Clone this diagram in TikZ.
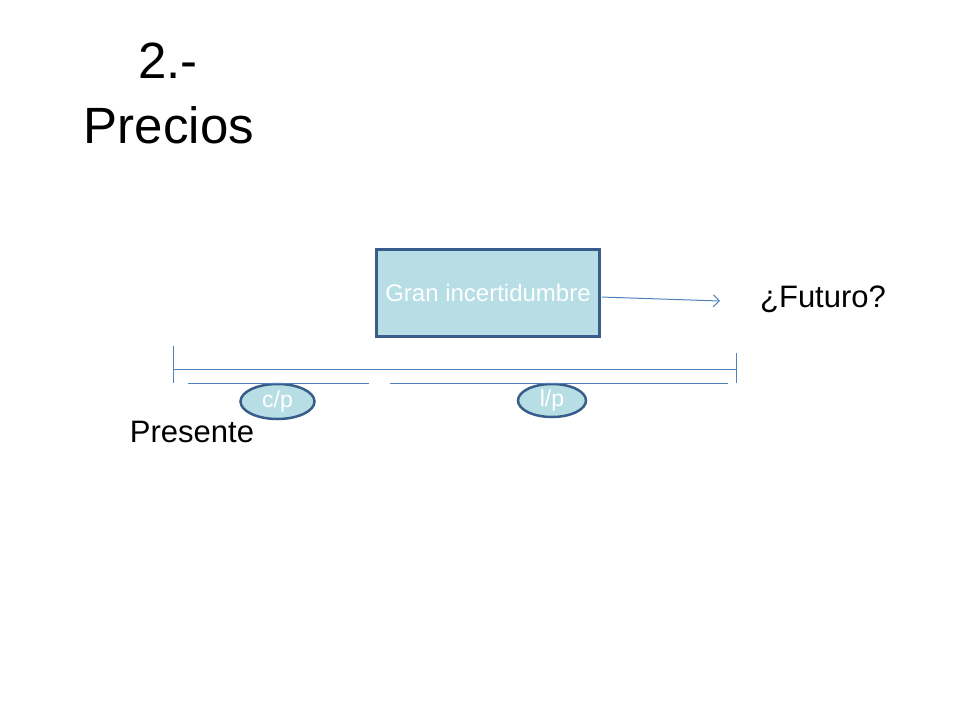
\documentclass[tikz,border=0pt]{standalone}
\usepackage{fontspec}
\setmainfont{Liberation Sans}
\usetikzlibrary{positioning,arrows}
\usetikzlibrary{shapes}
\usetikzlibrary{arrows.meta}
\definecolor{boxfill}{RGB}{183,222,228}
\definecolor{boxline}{RGB}{56,93,138}
\definecolor{axisline}{RGB}{79,129,189}

\begin{document}
\begin{tikzpicture}[x=1pt,y=-1pt]
	\useasboundingbox (0,0) rectangle (960,720);
	\tikzstyle{every node}=[inner sep=0pt, font=\fontsize{51}{60}\selectfont]
	\draw (168,78) node (num) [anchor=base]{2.-};
	\draw (169,143) node (tit) [anchor=base]{Precios};
	\tikzstyle{every node}=[inner sep=0pt, font=\fontsize{31}{37}\selectfont]
	\draw (823,307) node (fut) [anchor=base]{¿Futuro?};
	\draw (192,442) node (pres) [anchor=base]{Presente};
	\tikzstyle{every node}=[inner sep=0pt, text=white, fill=boxfill, draw=boxline, line width=2.5pt, font=\fontsize{24}{28}\selectfont]
	\draw (488,293) node (gran) [rectangle, minimum width=223pt, minimum height=87pt]{Gran incertidumbre};
	\draw (277.5,401.5) node (cp) [ellipse, minimum width=74pt, minimum height=35pt, font=\fontsize{23}{26}\selectfont]{c/p};
	\draw (552,400.5) node (lp) [ellipse, minimum width=68pt, minimum height=33pt, font=\fontsize{23}{26}\selectfont]{l/p};
	% linea de tiempo
	\coordinate (t0) at (173,369);
	\coordinate (t1) at (736,369);
	\coordinate (fend) at (720,301);
	\tikzstyle{every path}=[draw=axisline, line width=1pt]
	\draw ([yshift=23pt]t0) -- ([yshift=-14pt]t0);
	\draw ([yshift=16pt]t1) -- ([yshift=-14pt]t1);
	\draw (t0) -- (t1);
	\draw (188,383) -- (369,383);
	\draw (390,383) -- (728,383);
	\draw [shorten <=1pt,-{Straight Barb[length=6pt,width=12pt]}] ([yshift=-4pt]gran.east) -- (fend);
\end{tikzpicture}
\end{document}
